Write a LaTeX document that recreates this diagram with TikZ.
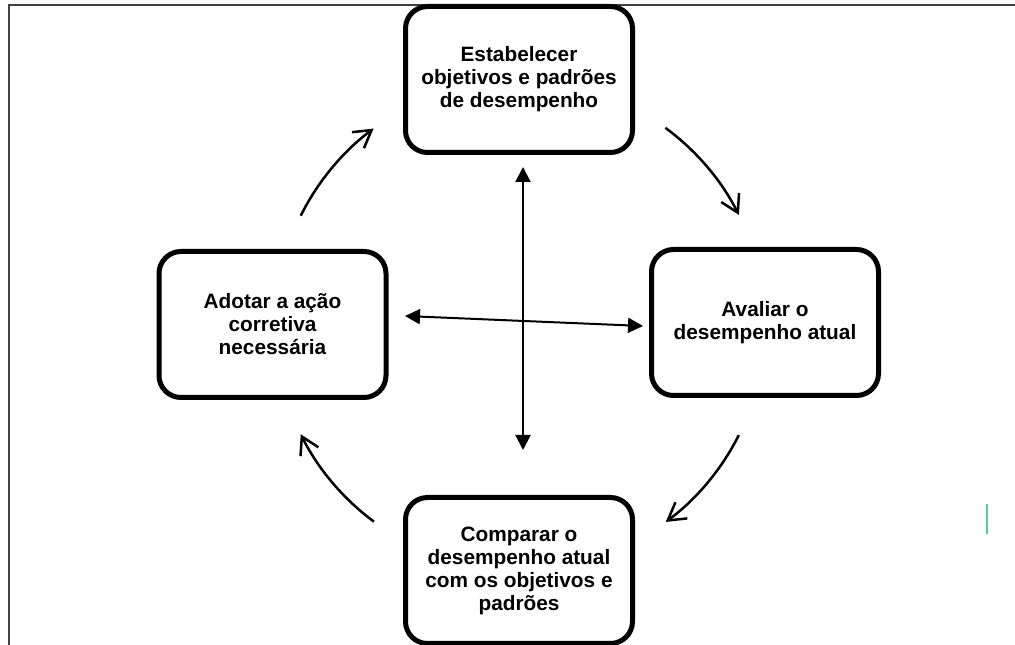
\documentclass[tikz,border=0pt]{standalone}
\usepackage{fontspec}
\setmainfont{Liberation Sans}
\usetikzlibrary{arrows.meta,calc}
\definecolor{greenmark}{RGB}{90,205,140}
\begin{document}
\begin{tikzpicture}[x=1pt,y=1pt,
  box/.style={draw, fill=white, line width=5pt, rounded corners=22pt,
    minimum width=227pt, minimum height=146pt, align=center, inner sep=0pt,
    font=\fontsize{20.8}{23}\selectfont\bfseries},
  cyc/.style={line width=2.5pt, -{Straight Barb[length=17pt,width=20pt]}},
  dbl/.style={line width=2pt, {Triangle[length=15pt,width=15pt]}-{Triangle[length=15pt,width=15pt]}},
  frameline/.style={line width=1.5pt, black!75},
  greenline/.style={line width=2pt, greenmark}]
\useasboundingbox (0,0) rectangle (1015,645);
\fill[white] (0,0) rectangle (1015,645);
\draw[frameline] (9,0) -- (9,640) -- (1015,640);

\node[box] (obj)  at (519,565.5) {Estabelecer\\objetivos e padrões\\de desempenho};
\node[box] (aval) at (765,322.5) {Avaliar o\\desempenho atual};
\node[box] (comp) at (519,74.5)  {Comparar o\\desempenho atual\\com os objetivos e\\padrões};
\node[box] (acao) at (272.5,320.5) {Adotar a ação\\corretiva\\necessária};

\coordinate (c) at (520,320);
\draw[cyc] ($(c)+(53.6:245)$) arc[start angle=53.6, end angle=26.7, radius=245];
\draw[cyc] ($(c)+(-26.7:245)$) arc[start angle=-26.7, end angle=-53.5, radius=245];
\draw[cyc] ($(c)+(-126.6:245)$) arc[start angle=-126.6, end angle=-153.5, radius=245];
\draw[cyc] ($(c)+(153.5:245)$) arc[start angle=153.5, end angle=126.7, radius=245];

\coordinate (vtop) at (523,478);
\coordinate (vbot) at (523,195);
\coordinate (hleft) at (405,329);
\coordinate (hright) at (643,319);
\draw[dbl] (vtop) -- (vbot);
\draw[dbl] (hleft) -- (hright);

\coordinate (g1) at (987,141);
\coordinate (g2) at (987,111);
\draw[greenline] (g1) -- (g2);
\end{tikzpicture}
\end{document}
